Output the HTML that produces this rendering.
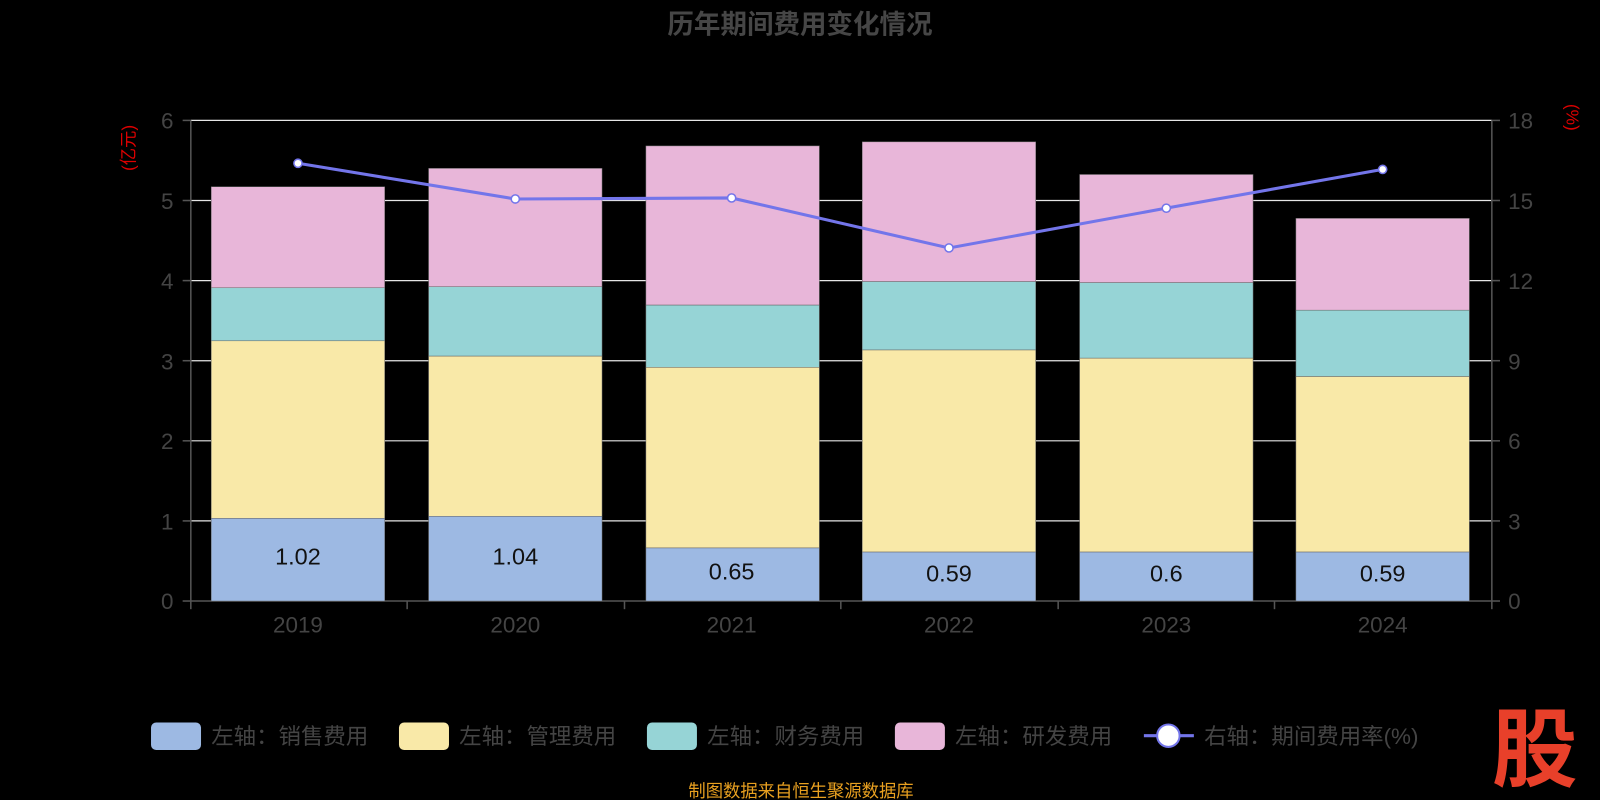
<!DOCTYPE html>
<html><head><meta charset="utf-8"><style>
body{margin:0;background:#000;width:1600px;height:800px;overflow:hidden}
svg{display:block;font-family:"Liberation Sans","Noto Sans CJK SC",sans-serif}
</style></head><body>
<svg width="1600" height="800" viewBox="0 0 1568 784" preserveAspectRatio="none">
<rect width="1568" height="784" fill="#000"/>
<text x="784" y="33" text-anchor="middle" font-size="26" font-weight="bold" fill="#464646">历年期间费用变化情况</text>
<text transform="translate(132,145) rotate(-90)" text-anchor="middle" font-size="17" fill="#d00">(亿元)</text>
<text transform="translate(1535,115) rotate(90)" text-anchor="middle" font-size="17" fill="#d00">(%)</text>
<g stroke="#e6e6e6" stroke-width="1.2">
<line x1="187" x2="1462" y1="118" y2="118"/><line x1="187" x2="1462" y1="196.5" y2="196.5"/>
<line x1="187" x2="1462" y1="275" y2="275"/><line x1="187" x2="1462" y1="353.5" y2="353.5"/>
<line x1="187" x2="1462" y1="432" y2="432"/><line x1="187" x2="1462" y1="510.5" y2="510.5"/>
</g>
<g stroke="#555" stroke-width="1.5">
<line x1="187" x2="187" y1="118" y2="589"/><line x1="1462" x2="1462" y1="118" y2="589"/>
<line x1="187" x2="1462" y1="589" y2="589"/>
<line x1="187" x2="187" y1="589" y2="597"/><line x1="399" x2="399" y1="589" y2="597"/><line x1="612" x2="612" y1="589" y2="597"/><line x1="824" x2="824" y1="589" y2="597"/><line x1="1037" x2="1037" y1="589" y2="597"/><line x1="1249" x2="1249" y1="589" y2="597"/><line x1="1462" x2="1462" y1="589" y2="597"/>
<line x1="179" x2="187" y1="118" y2="118"/><line x1="179" x2="187" y1="196.5" y2="196.5"/><line x1="179" x2="187" y1="275" y2="275"/><line x1="179" x2="187" y1="353.5" y2="353.5"/><line x1="179" x2="187" y1="432" y2="432"/><line x1="179" x2="187" y1="510.5" y2="510.5"/><line x1="179" x2="187" y1="589" y2="589"/>
<line x1="1462" x2="1470" y1="118" y2="118"/><line x1="1462" x2="1470" y1="196.5" y2="196.5"/><line x1="1462" x2="1470" y1="275" y2="275"/><line x1="1462" x2="1470" y1="353.5" y2="353.5"/><line x1="1462" x2="1470" y1="432" y2="432"/><line x1="1462" x2="1470" y1="510.5" y2="510.5"/><line x1="1462" x2="1470" y1="589" y2="589"/>
</g>
<g font-size="22" fill="#444" text-anchor="end">
<text x="170" y="126">6</text><text x="170" y="205">5</text><text x="170" y="283">4</text><text x="170" y="362">3</text><text x="170" y="440">2</text><text x="170" y="519">1</text><text x="170" y="597">0</text>
</g>
<g font-size="22" fill="#444">
<text x="1478" y="126">18</text><text x="1478" y="205">15</text><text x="1478" y="283">12</text><text x="1478" y="362">9</text><text x="1478" y="440">6</text><text x="1478" y="519">3</text><text x="1478" y="597">0</text>
</g>
<g font-size="22" fill="#444" text-anchor="middle">
<text x="292" y="620">2019</text><text x="505" y="620">2020</text><text x="717" y="620">2021</text><text x="930" y="620">2022</text><text x="1143" y="620">2023</text><text x="1355" y="620">2024</text>
</g>
<g stroke="#666" stroke-width="0.5">
<rect x="207" y="183" width="170" height="99" fill="#e8b6d9"/><rect x="207" y="282" width="170" height="52" fill="#96d4d6"/><rect x="207" y="334" width="170" height="174" fill="#f9e9a8"/><rect x="207" y="508" width="170" height="81" fill="#9db9e3"/>
<rect x="420" y="165" width="170" height="116" fill="#e8b6d9"/><rect x="420" y="281" width="170" height="68" fill="#96d4d6"/><rect x="420" y="349" width="170" height="157" fill="#f9e9a8"/><rect x="420" y="506" width="170" height="83" fill="#9db9e3"/>
<rect x="633" y="143" width="170" height="156" fill="#e8b6d9"/><rect x="633" y="299" width="170" height="61" fill="#96d4d6"/><rect x="633" y="360" width="170" height="177" fill="#f9e9a8"/><rect x="633" y="537" width="170" height="52" fill="#9db9e3"/>
<rect x="845" y="139" width="170" height="137" fill="#e8b6d9"/><rect x="845" y="276" width="170" height="67" fill="#96d4d6"/><rect x="845" y="343" width="170" height="198" fill="#f9e9a8"/><rect x="845" y="541" width="170" height="48" fill="#9db9e3"/>
<rect x="1058" y="171" width="170" height="106" fill="#e8b6d9"/><rect x="1058" y="277" width="170" height="74" fill="#96d4d6"/><rect x="1058" y="351" width="170" height="190" fill="#f9e9a8"/><rect x="1058" y="541" width="170" height="48" fill="#9db9e3"/>
<rect x="1270" y="214" width="170" height="90" fill="#e8b6d9"/><rect x="1270" y="304" width="170" height="65" fill="#96d4d6"/><rect x="1270" y="369" width="170" height="172" fill="#f9e9a8"/><rect x="1270" y="541" width="170" height="48" fill="#9db9e3"/>
</g>
<g font-size="23" fill="#111" text-anchor="middle">
<text x="292" y="553">1.02</text><text x="505" y="553">1.04</text><text x="717" y="568">0.65</text><text x="930" y="570">0.59</text><text x="1143" y="570">0.6</text><text x="1355" y="570">0.59</text>
</g>
<polyline points="292,160 505,195 717,194 930,243 1143,204 1355,166" fill="none" stroke="#7375ea" stroke-width="3"/>
<g fill="#fff" stroke="#7375ea" stroke-width="1.5">
<circle cx="292" cy="160" r="4"/><circle cx="505" cy="195" r="4"/><circle cx="717" cy="194" r="4"/><circle cx="930" cy="243" r="4"/><circle cx="1143" cy="204" r="4"/><circle cx="1355" cy="166" r="4"/>
</g>
<g font-size="22" fill="#444">
<rect x="148" y="708" width="49" height="27" rx="5" fill="#9db9e3"/><text x="207" y="729">左轴：销售费用</text>
<rect x="391" y="708" width="49" height="27" rx="5" fill="#f9e9a8"/><text x="450" y="729">左轴：管理费用</text>
<rect x="634" y="708" width="49" height="27" rx="5" fill="#96d4d6"/><text x="693" y="729">左轴：财务费用</text>
<rect x="877" y="708" width="49" height="27" rx="5" fill="#e8b6d9"/><text x="936" y="729">左轴：研发费用</text>
<line x1="1121" x2="1170" y1="721" y2="721" stroke="#7375ea" stroke-width="3"/><circle cx="1145" cy="721" r="11" fill="#fff" stroke="#7375ea" stroke-width="2"/><text x="1180" y="729">右轴：期间费用率(%)</text>
</g>
<text x="785" y="781" text-anchor="middle" font-size="17" fill="#e8a020">制图数据来自恒生聚源数据库</text>
<text x="1504" y="764" text-anchor="middle" font-size="84" font-weight="bold" fill="#e8402a">股</text>
</svg>
</body></html>
